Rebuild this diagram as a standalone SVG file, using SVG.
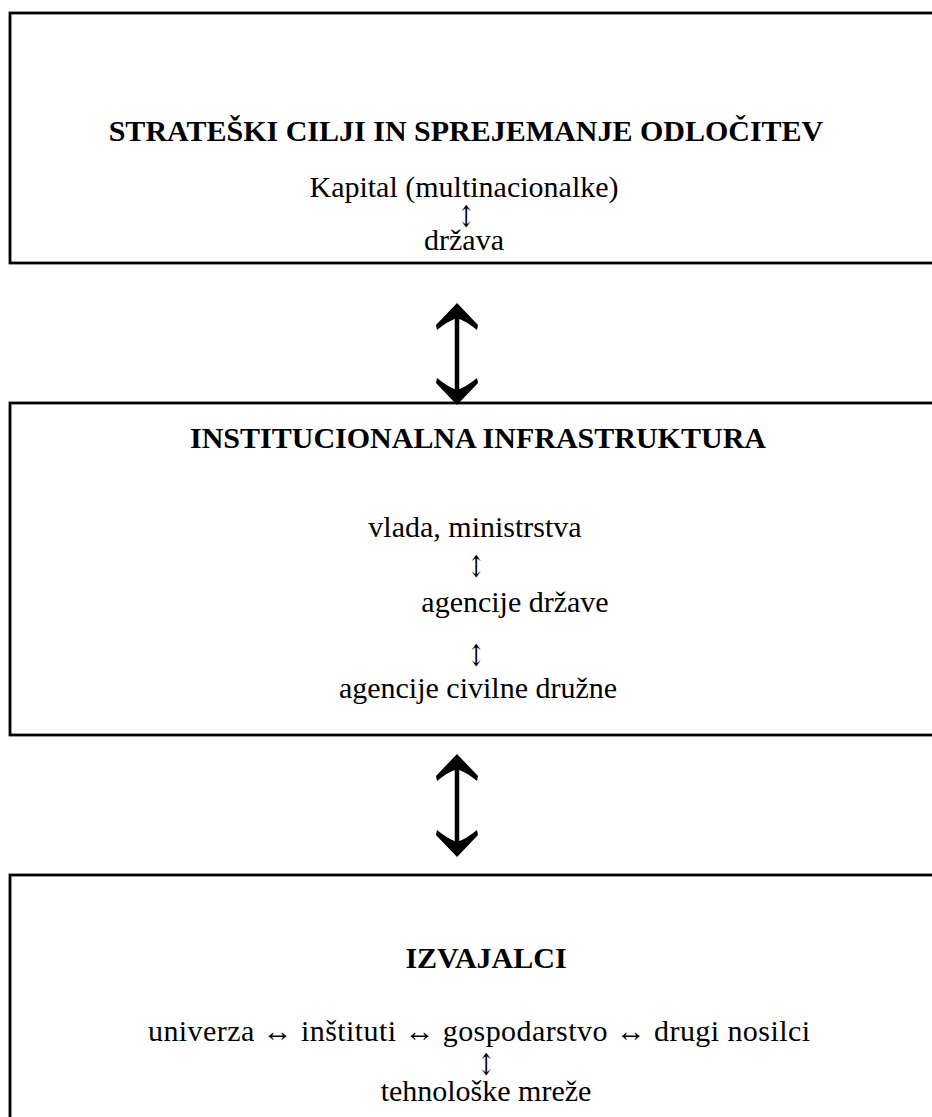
<svg xmlns="http://www.w3.org/2000/svg" width="932" height="1117" viewBox="0 0 932 1117">
<defs>
<style>
.box{fill:#fff;stroke:#000;stroke-width:2.8}
.t{font-family:"Liberation Serif","Times New Roman",serif;font-size:30px;fill:#000;text-anchor:middle}
.b{font-weight:bold}
.ar{font-family:"DejaVu Serif","Liberation Serif",serif;font-size:30px;fill:#000;text-anchor:middle}
.big{fill:#000}
</style>
<path id="head" d="M0,0 L21,22 L20,27 Q9,18 0,15 Q-9,18 -20,27 L-21,22 Z"/>
</defs>
<rect width="932" height="1117" fill="#fff"/>
<g id="node-strategic">
<rect class="box" x="10" y="13" width="940" height="250"/>
<text class="t b" x="466" y="141">STRATEŠKI CILJI IN SPREJEMANJE ODLOČITEV</text>
<text class="t" x="464" y="197">Kapital (multinacionalke)</text>
<text class="ar" transform="translate(466,227) scale(0.7,1)" x="0" y="0">↕</text>
<text class="t" x="464" y="250">država</text>
</g>
<g id="node-institutional">
<rect class="box" x="10" y="403" width="940" height="332"/>
<text class="t b" x="478" y="448">INSTITUCIONALNA INFRASTRUKTURA</text>
<text class="t" x="475" y="537">vlada, ministrstva</text>
<text class="ar" transform="translate(476,577) scale(0.7,1)" x="0" y="0">↕</text>
<text class="t" x="515" y="612">agencije države</text>
<text class="ar" transform="translate(476,666) scale(0.7,1)" x="0" y="0">↕</text>
<text class="t" x="478" y="698">agencije civilne družne</text>
</g>
<g id="node-executors">
<rect class="box" x="10" y="875" width="940" height="260"/>
<text class="t b" x="486" y="968">IZVAJALCI</text>
<text class="t" x="479" y="1041" textLength="662" lengthAdjust="spacing">univerza ↔ inštituti ↔ gospodarstvo ↔ drugi nosilci</text>
<text class="ar" transform="translate(486,1075) scale(0.7,1)" x="0" y="0">↕</text>
<text class="t" x="486" y="1101">tehnološke mreže</text>
</g>
<g id="connectors">
<line x1="457" y1="310" x2="457" y2="398" stroke="#000" stroke-width="4.5"/>
<use href="#head" class="big" transform="translate(457,303)"/>
<use href="#head" class="big" transform="translate(457,405) rotate(180)"/>
<line x1="457" y1="760" x2="457" y2="851" stroke="#000" stroke-width="4.5"/>
<use href="#head" class="big" transform="translate(457,754)"/>
<use href="#head" class="big" transform="translate(457,857) rotate(180)"/>
</g>
</svg>
